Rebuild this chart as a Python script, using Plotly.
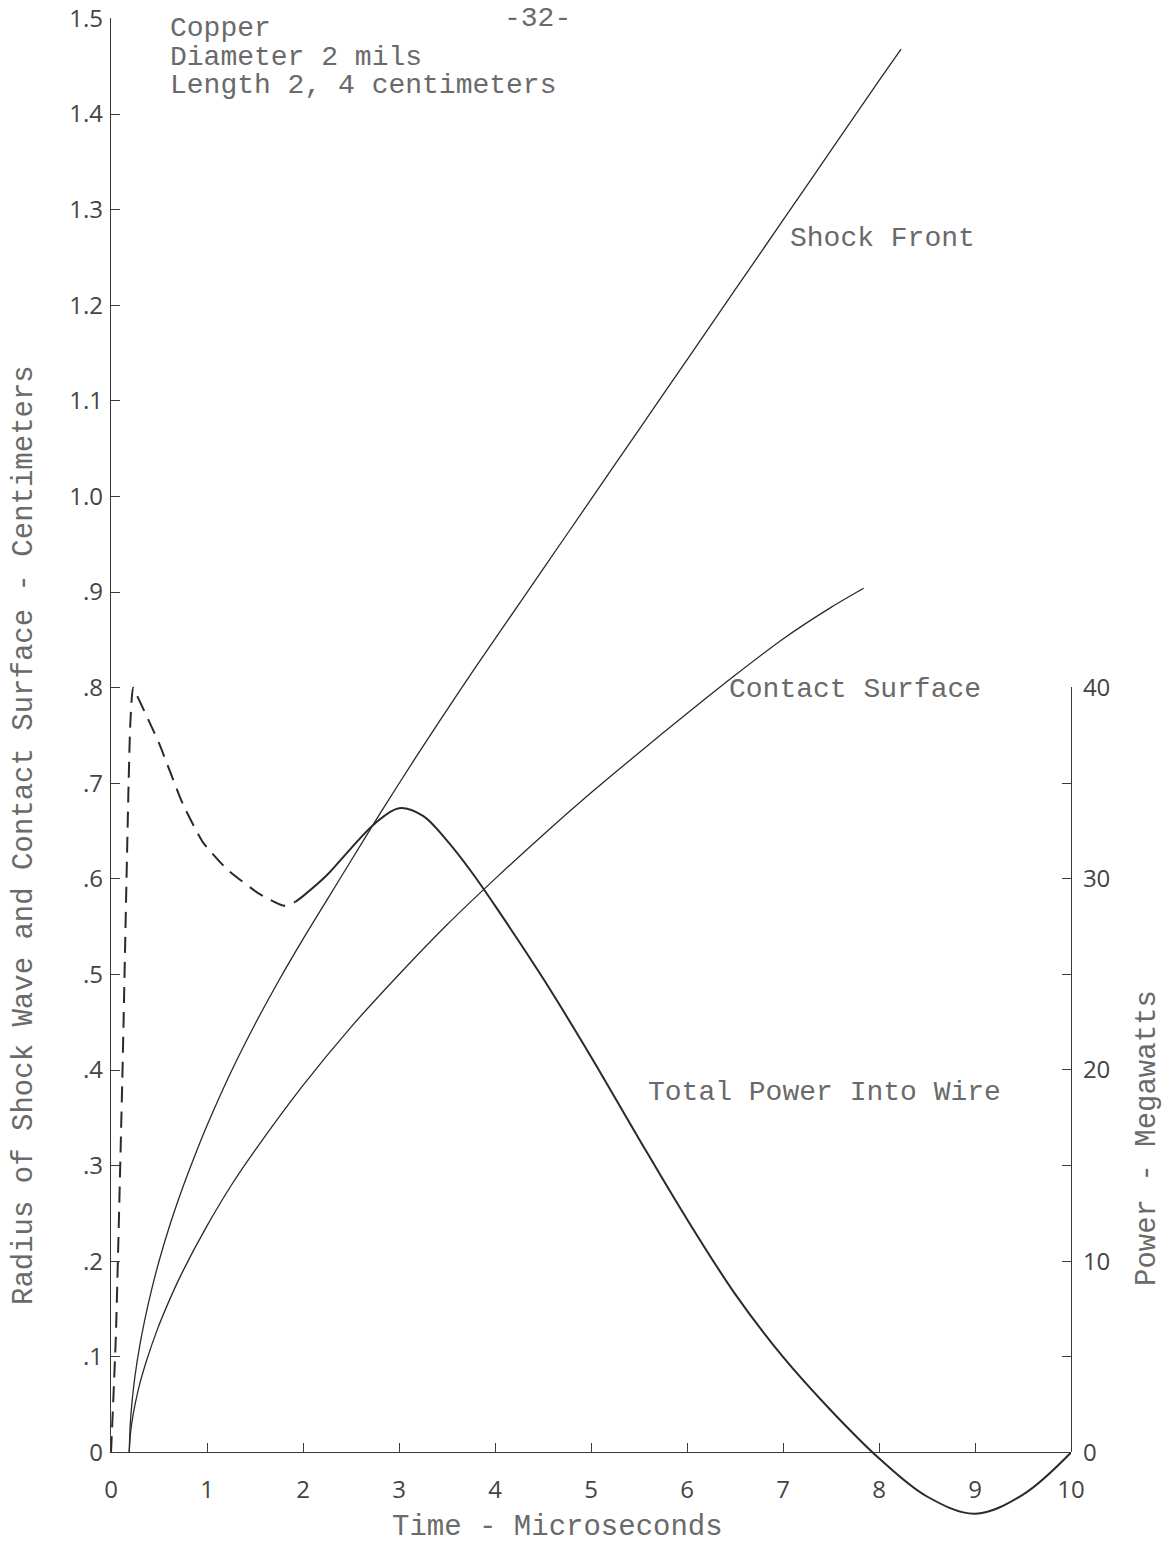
import plotly.graph_objects as go

# ---------------- data ----------------
shock_time = [0.19, 0.20, 0.22, 0.25, 0.30, 0.35, 0.42, 0.5, 0.62, 0.75, 0.875, 1.0, 1.25, 1.5, 1.75,
              2.0, 2.25, 2.5, 2.8, 3.2, 3.64, 4.0, 4.5, 5.0, 5.5, 6.0, 6.5, 7.0, 7.5, 8.0, 8.23]
shock_radius = [0.0, 0.029, 0.054, 0.080, 0.112, 0.138, 0.169, 0.200, 0.240, 0.278, 0.311, 0.342, 0.398,
                0.448, 0.494, 0.537, 0.578, 0.619, 0.668, 0.731, 0.798, 0.851, 0.924, 0.997, 1.070,
                1.143, 1.216, 1.289, 1.362, 1.435, 1.468]

contact_time = [0.19, 0.20, 0.22, 0.25, 0.30, 0.37, 0.48, 0.62, 0.75, 1.0, 1.25, 1.5, 2.0, 2.5, 3.0,
                3.5, 4.0, 4.5, 5.0, 5.5, 6.0, 6.5, 7.0, 7.5, 7.84]
contact_radius = [0.0, 0.017, 0.033, 0.050, 0.072, 0.096, 0.128, 0.162, 0.190, 0.237, 0.279, 0.316,
                  0.384, 0.445, 0.500, 0.552, 0.600, 0.646, 0.690, 0.732, 0.773, 0.813, 0.851, 0.884,
                  0.904]

power_dash_time = [0.0, 0.05, 0.12, 0.2, 0.23, 0.27, 0.5, 0.75, 0.96, 1.21, 1.55, 1.8, 1.92]
power_dash_mw = [0.0, 6.0, 20.0, 38.0, 40.0, 39.6, 37.1, 33.9, 31.9, 30.5, 29.2, 28.6, 28.8]

power_time = [1.92, 2.0, 2.25, 2.5, 2.75, 3.0, 3.25, 3.5, 3.75, 4.0, 4.5, 5.0, 5.5, 6.0, 6.5, 7.0,
              7.5, 8.0, 8.5, 9.0, 9.5, 10.0]
power_mw = [28.8, 29.1, 30.2, 31.6, 32.9, 33.7, 33.3, 32.0, 30.4, 28.6, 24.8, 20.7, 16.4, 12.2, 8.3,
            5.0, 2.2, -0.3, -2.3, -3.2, -2.2, 0.0]

x_ticks = list(range(11))
x_tick_labels = [str(v) for v in x_ticks]
radius_ticks = [round(0.1 * i, 1) for i in range(16)]
radius_tick_labels = ["0", ".1", ".2", ".3", ".4", ".5", ".6", ".7", ".8", ".9",
                      "1.0", "1.1", "1.2", "1.3", "1.4", "1.5"]
power_ticks = [0, 5, 10, 15, 20, 25, 30, 35, 40]
power_tick_labels = ["0", "", "10", "", "20", "", "30", "", "40"]

# ---------------- styling ----------------
W, H = 1174, 1548
L, R, T, B = 111, 103, 18, 19
PLOT_TOP, PLOT_BOT = T, H - B
RAD_MAX = 1.5
RAD_LOW = -0.08          # extra room below zero for the negative power dip
MW_PER_CM = 50.0         # 40 MW sits at 0.8 cm
EPS = 0.0005
d0 = (0 - RAD_LOW) / (RAD_MAX - RAD_LOW)

ink = "#2a2a2a"
axis_col = "#3a3a3a"
type_col = "#6a6a6a"
tick_font = dict(family="Open Sans, Liberation Sans, sans-serif", size=24, color="#444444")
type_font = dict(family="Liberation Mono, Courier New, monospace", size=28, color=type_col)
title_font = dict(family="Liberation Mono, Courier New, monospace", size=29, color=type_col)


def px_to_paper(px, py):
    return (px - L) / (W - L - R), (PLOT_BOT - py) / (PLOT_BOT - PLOT_TOP)


fig = go.Figure()

fig.add_trace(go.Scatter(x=shock_time, y=shock_radius, mode="lines",
                         line=dict(color=ink, width=1.3, shape="spline", smoothing=0.8),
                         xaxis="x", yaxis="y", hoverinfo="skip"))
fig.add_trace(go.Scatter(x=contact_time, y=contact_radius, mode="lines",
                         line=dict(color=ink, width=1.3, shape="spline", smoothing=0.8),
                         xaxis="x", yaxis="y", hoverinfo="skip"))
fig.add_trace(go.Scatter(x=power_dash_time, y=power_dash_mw, mode="lines",
                         line=dict(color=ink, width=2, dash="16px,9px", shape="spline", smoothing=0.5),
                         xaxis="x", yaxis="y3", hoverinfo="skip"))
fig.add_trace(go.Scatter(x=power_time, y=power_mw, mode="lines",
                         line=dict(color=ink, width=2, shape="spline", smoothing=1.0),
                         xaxis="x", yaxis="y3", hoverinfo="skip"))
# invisible companion so that the right-hand power axis is drawn
fig.add_trace(go.Scatter(x=power_time, y=power_mw, mode="lines", opacity=0,
                         line=dict(width=0), xaxis="x", yaxis="y2", hoverinfo="skip"))

common = dict(showgrid=False, zeroline=False, showline=True, linecolor=axis_col, linewidth=1.2,
              ticks="inside", ticklen=9, tickwidth=1.2, tickcolor=axis_col, tickfont=tick_font,
              automargin=False, ticklabeloverflow="allow")

fig.update_layout(
    width=W, height=H,
    margin=dict(l=L, r=R, t=T, b=B, autoexpand=False),
    paper_bgcolor="white", plot_bgcolor="rgba(0,0,0,0)",
    showlegend=False,
    xaxis=dict(domain=[0, 1], range=[0, 10], anchor="y", tickvals=x_ticks, ticktext=x_tick_labels,
               ticklabelstandoff=16, **common),
    yaxis=dict(domain=[d0, 1], range=[0, RAD_MAX + EPS], anchor="x", side="left",
               tickvals=radius_ticks, ticktext=radius_tick_labels, ticklabelstandoff=2, **common),
    yaxis2=dict(domain=[d0, d0 + (0.8 / RAD_MAX) * (1 - d0)], range=[0, 40 + EPS], anchor="x", side="right",
                tickvals=power_ticks, ticktext=power_tick_labels, ticklabelstandoff=6, **common),
    yaxis3=dict(domain=[0, 1], range=[RAD_LOW * MW_PER_CM, (RAD_MAX + EPS) * MW_PER_CM], anchor="x",
                visible=False, automargin=False),
)

annotations = [
    ("-32-", 537, 19, "center", 0, type_font),
    ("Copper", 168, 28, "left", 0, type_font),
    ("Diameter 2 mils", 168, 57, "left", 0, type_font),
    ("Length 2, 4 centimeters", 168, 86, "left", 0, type_font),
    ("Shock Front", 788, 239, "left", 0, type_font),
    ("Contact Surface", 727, 689, "left", 0, type_font),
    ("Total Power Into Wire", 1003, 1092, "right", 0, type_font),
    ("Time - Microseconds", 557, 1527, "center", 0, title_font),
    ("Radius of Shock Wave and Contact Surface - Centimeters", 24, 835, "center", -90, title_font),
    ("Power - Megawatts", 1147, 1138, "center", -90, title_font),
]
for text, px, py, xa, ang, fnt in annotations:
    ax, ay = px_to_paper(px, py)
    fig.add_annotation(text=text, x=ax, y=ay, xref="paper", yref="paper", xanchor=xa, yanchor="middle",
                       showarrow=False, textangle=ang, font=fnt)

fig.write_html("out.html")
